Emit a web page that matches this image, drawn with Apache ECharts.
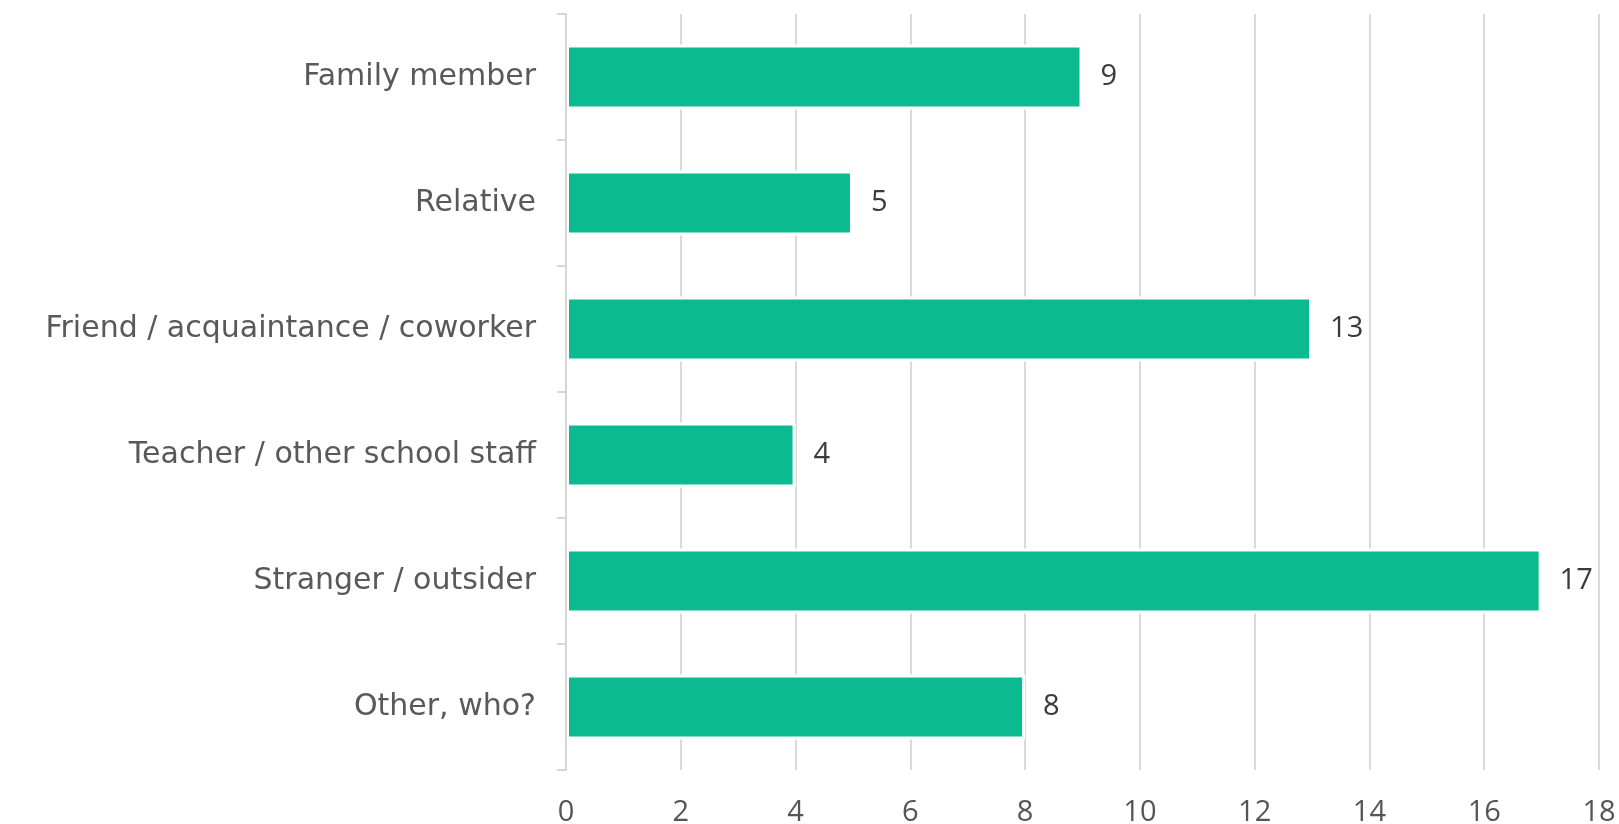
<!DOCTYPE html>
<html>
<head>
<meta charset="utf-8">
<script src="https://cdn.jsdelivr.net/npm/echarts@6/dist/echarts.min.js"></script>
<style>
  html, body { margin: 0; padding: 0; background: #fff; }
  #chart { width: 1619px; height: 824px; }
</style>
</head>
<body>
<div id="chart"></div>
<script>
// Who the respondents named, with counts per answer
const categories = [
  'Family member',
  'Relative',
  'Friend / acquaintance / coworker',
  'Teacher / other school staff',
  'Stranger / outsider',
  'Other, who?'
];
const counts = [9, 5, 13, 4, 17, 8];
const xTicks = { min: 0, max: 18, step: 2 };

const LABEL_FONT = '"DejaVu Sans", "Open Sans", sans-serif';
const NUMBER_FONT = '"Open Sans", "Noto Sans", sans-serif';

const chart = echarts.init(document.getElementById('chart'), null, { renderer: 'canvas' });

chart.setOption({
  animation: false,
  backgroundColor: '#ffffff',
  grid: {
    left: 566, right: 20, top: 14, bottom: 54,
    containLabel: false,
    outerBoundsMode: 'none'
  },
  xAxis: {
    type: 'value',
    min: xTicks.min,
    max: xTicks.max,
    interval: xTicks.step,
    axisLine: { show: false },
    axisTick: { show: false },
    splitLine: { show: true, lineStyle: { color: '#dadada', width: 2 } },
    axisLabel: { margin: 28, fontFamily: NUMBER_FONT, fontSize: 29, color: '#555555' }
  },
  yAxis: {
    type: 'category',
    data: categories,
    inverse: true,
    z: 3,
    axisLine: { show: true, lineStyle: { color: '#d6d6d6', width: 2 } },
    axisTick: { show: true, length: 9, lineStyle: { color: '#d6d6d6', width: 2 } },
    splitLine: { show: false },
    axisLabel: { margin: 30, fontFamily: LABEL_FONT, fontSize: 30, color: '#595959' }
  },
  series: [{
    type: 'bar',
    data: counts,
    barWidth: 65,
    itemStyle: { color: '#0bba8f', borderColor: '#ffffff', borderWidth: 3 },
    label: {
      show: true,
      position: 'right',
      distance: 18,
      fontFamily: NUMBER_FONT,
      fontSize: 29,
      color: '#3a3a3a'
    }
  }]
});
</script>
</body>
</html>
